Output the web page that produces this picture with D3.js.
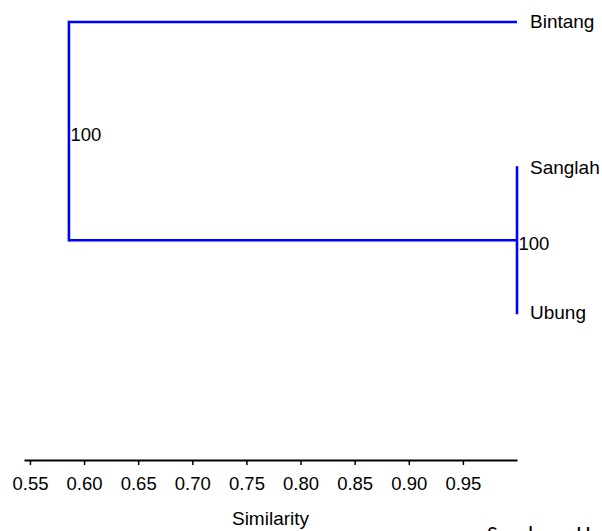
<!DOCTYPE html>
<html>
<head>
<meta charset="utf-8">
<script src="https://cdn.jsdelivr.net/npm/d3@7"></script>
<style>
  html, body { margin: 0; padding: 0; background: #fff; overflow: hidden; }
  svg { display: block; }
  text { font-family: "Liberation Sans", Arial, Helvetica, sans-serif; fill: #000; }
</style>
</head>
<body>
<svg id="chart" width="602" height="531"></svg>
<script>
// ---- data ----
const leaves = ["Bintang", "Sanglah", "Ubung"];
const leafSimilarity = 1.0;
const innerCluster = ["Sanglah", "Ubung"];
const innerSimilarity = 1.0;
const rootSimilarity = 0.586;
const bootstrapValues = [100, 100]; // root, inner
const tickValues = [0.55, 0.60, 0.65, 0.70, 0.75, 0.80, 0.85, 0.90, 0.95];
const axisDomain = [0.5445, 1.0];
const axisTitle = "Similarity";
const sourceNote = "Sumber : Hasil Analisis";

// ---- build tree ----
const treeData = {
  sim: rootSimilarity, boot: bootstrapValues[0],
  children: [
    { name: leaves[0], sim: leafSimilarity },
    { sim: innerSimilarity, boot: bootstrapValues[1],
      children: innerCluster.map(n => ({ name: n, sim: leafSimilarity })) }
  ]
};
const root = d3.hierarchy(treeData);

const svg = d3.select("#chart");
svg.append("rect").attr("width", 602).attr("height", 531).attr("fill", "#fff");

const x = d3.scaleLinear().domain(axisDomain).range([24, 517]);
const y = d3.scalePoint().domain(leaves).range([22, 313]);

root.eachAfter(n => {
  if (!n.children) n.py = y(n.data.name);
  else n.py = d3.mean(n.children, c => c.py);
});

const blue = "#0000ff";
const g = svg.append("g");

root.each(n => {
  if (!n.children) return;
  const xs = x(n.data.sim);
  const ys = n.children.map(c => c.py);
  g.append("line")
    .attr("x1", xs).attr("x2", xs)
    .attr("y1", d3.min(ys)).attr("y2", d3.max(ys))
    .attr("stroke", blue).attr("stroke-width", 2.6).attr("stroke-linecap", "square");
  n.children.forEach(c => {
    g.append("line")
      .attr("x1", xs).attr("x2", x(c.data.sim))
      .attr("y1", c.py).attr("y2", c.py)
      .attr("stroke", blue).attr("stroke-width", 2.6);
  });
});

root.each(n => {
  if (!n.children) return;
  svg.append("text")
    .attr("x", x(n.data.sim) + 1.5)
    .attr("y", n.py + 3)
    .attr("dy", "0.35em")
    .attr("font-size", 18.5)
    .text(n.data.boot);
});

root.leaves().forEach(l => {
  svg.append("text")
    .attr("x", x(l.data.sim) + 13)
    .attr("y", l.py)
    .attr("dy", "0.33em")
    .attr("font-size", 19)
    .text(l.data.name);
});

const axis = d3.axisBottom(x)
  .tickValues(tickValues)
  .tickFormat(d3.format(".2f"))
  .tickSize(5)
  .tickSizeOuter(0);
const ag = svg.append("g").attr("transform", "translate(0,460)").call(axis);
ag.select(".domain").attr("stroke", "#000").attr("stroke-width", 2.2);
ag.selectAll(".tick line").attr("stroke", "#000").attr("stroke-width", 1.5);
ag.selectAll(".tick text")
  .attr("y", 30).attr("dy", null)
  .attr("font-size", 18.5)
  .attr("font-family", "Liberation Sans, Arial, sans-serif")
  .attr("fill", "#000");

svg.append("text")
  .attr("x", (x.range()[0] + x.range()[1]) / 2)
  .attr("y", 525)
  .attr("text-anchor", "middle")
  .attr("font-size", 19)
  .text(axisTitle);

svg.append("text")
  .attr("x", 487)
  .attr("y", 542)
  .attr("font-size", 23)
  .style("font-family", "Carlito, 'Open Sans', 'Liberation Sans', sans-serif")
  .text(sourceNote);
</script>
</body>
</html>
